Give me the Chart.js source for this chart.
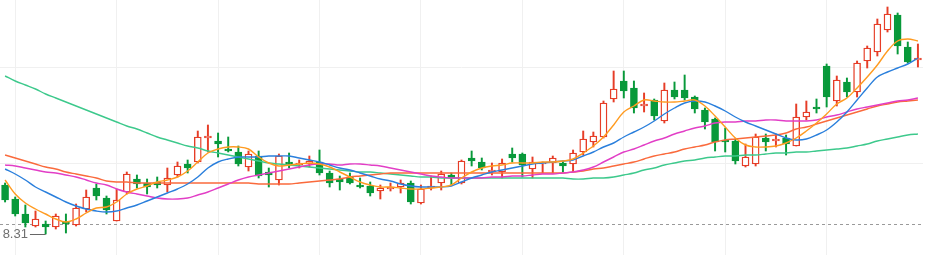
<!DOCTYPE html>
<html>
<head>
<meta charset="utf-8">
<script src="https://cdn.jsdelivr.net/npm/chart.js@4.4.1/dist/chart.umd.min.js"></script>
<style>
  body { margin: 0; background: #fff; }
  #wrap { width: 937px; height: 255px; }
</style>
</head>
<body>
<div id="wrap"><canvas id="kline"></canvas></div>
<script>
// daily candles
const opens = [8.80, 8.66, 8.51, 8.39, 8.41, 8.38, 8.43, 8.40, 8.56, 8.77,
  8.67, 8.44, 8.73, 8.86, 8.82, 8.83, 8.80, 8.90, 9.01, 9.03,
  9.27, 9.24, 9.16, 9.13, 8.98, 9.09, 8.93, 8.85, 9.03, 9.00,
  9.01, 9.03, 8.92, 8.86, 8.88, 8.80, 8.79, 8.74, 8.76, 8.78,
  8.82, 8.62, 8.77, 8.82, 8.90, 8.82, 9.07, 9.03, 8.93, 8.93,
  9.11, 9.11, 8.96, 9.01, 9.02, 9.02, 9.01, 9.13, 9.23, 9.28,
  9.66, 9.84, 9.77, 9.59, 9.65, 9.44, 9.75, 9.75, 9.68, 9.55,
  9.46, 9.25, 9.24, 8.99, 9.01, 9.27, 9.24, 9.27, 9.19, 9.48,
  9.58, 9.99, 9.64, 9.83, 9.73, 10.04, 10.13, 10.35, 10.50, 10.18, 10.05];
const closes = [8.65, 8.51, 8.42, 8.46, 8.38, 8.49, 8.41, 8.57, 8.68, 8.69,
  8.55, 8.65, 8.91, 8.81, 8.78, 8.80, 8.87, 8.99, 8.97, 9.28,
  9.29, 9.21, 9.14, 9.01, 9.11, 8.89, 8.90, 9.09, 9.01, 9.02,
  9.04, 8.92, 8.82, 8.83, 8.82, 8.78, 8.72, 8.77, 8.78, 8.82,
  8.63, 8.76, 8.79, 8.91, 8.87, 9.04, 9.04, 8.97, 8.95, 9.02,
  9.07, 9.00, 9.03, 9.02, 9.07, 8.99, 9.12, 9.26, 9.29, 9.62,
  9.76, 9.74, 9.57, 9.61, 9.49, 9.75, 9.68, 9.67, 9.56, 9.43,
  9.23, 9.23, 9.04, 9.08, 9.28, 9.23, 9.26, 9.21, 9.48, 9.53,
  9.56, 9.68, 9.85, 9.73, 10.02, 10.17, 10.41, 10.51, 10.19, 10.03, 10.07];
const highs = [8.82, 8.68, 8.60, 8.54, 8.44, 8.51, 8.51, 8.61, 8.75, 8.81,
  8.69, 8.76, 8.93, 8.90, 8.86, 8.88, 8.97, 9.03, 9.05, 9.34,
  9.40, 9.32, 9.28, 9.19, 9.14, 9.14, 8.97, 9.11, 9.12, 9.05,
  9.09, 9.15, 8.94, 8.89, 8.92, 8.87, 8.83, 8.80, 8.82, 8.85,
  8.84, 8.80, 8.89, 8.94, 8.92, 9.05, 9.14, 9.07, 9.02, 9.06,
  9.17, 9.12, 9.08, 9.03, 9.09, 9.04, 9.15, 9.34, 9.33, 9.64,
  9.94, 9.94, 9.84, 9.72, 9.66, 9.82, 9.83, 9.90, 9.69, 9.57,
  9.47, 9.37, 9.26, 9.21, 9.31, 9.31, 9.31, 9.30, 9.61, 9.64,
  9.66, 10.01, 9.89, 9.87, 10.04, 10.19, 10.46, 10.58, 10.52, 10.23, 10.21];
const lows = [8.63, 8.49, 8.38, 8.38, 8.31, 8.36, 8.32, 8.39, 8.53, 8.65,
  8.51, 8.44, 8.71, 8.77, 8.71, 8.77, 8.73, 8.88, 8.92, 9.02,
  9.13, 9.08, 9.13, 8.99, 8.94, 8.87, 8.78, 8.80, 8.97, 8.97,
  8.98, 8.90, 8.78, 8.75, 8.81, 8.77, 8.69, 8.66, 8.74, 8.72,
  8.61, 8.61, 8.75, 8.75, 8.80, 8.81, 8.99, 8.95, 8.90, 8.87,
  9.03, 8.88, 8.87, 8.92, 8.92, 8.93, 8.93, 9.10, 9.18, 9.27,
  9.63, 9.67, 9.52, 9.53, 9.45, 9.42, 9.66, 9.65, 9.52, 9.36,
  9.14, 9.13, 9.01, 8.98, 8.99, 9.14, 9.18, 9.10, 9.19, 9.45,
  9.52, 9.58, 9.59, 9.68, 9.68, 9.97, 10.09, 10.33, 10.11, 10.02, 9.98];

// moving averages as drawn
const ma5 = [8.85, 8.71, 8.62, 8.56, 8.51, 8.46, 8.43, 8.46, 8.52, 8.57,
  8.58, 8.63, 8.71, 8.76, 8.79, 8.83, 8.85, 8.88, 8.94, 9.03,
  9.12, 9.16, 9.18, 9.18, 9.16, 9.08, 9.02, 8.99, 9.00, 9.01,
  9.02, 9.01, 8.98, 8.93, 8.88, 8.83, 8.80, 8.78, 8.78, 8.77,
  8.76, 8.76, 8.77, 8.78, 8.80, 8.87, 8.93, 8.97, 8.99, 9.00,
  9.02, 9.02, 9.02, 9.03, 9.03, 9.04, 9.06, 9.12, 9.19, 9.28,
  9.40, 9.53, 9.59, 9.65, 9.64, 9.63, 9.63, 9.64, 9.65, 9.59,
  9.49, 9.38, 9.27, 9.20, 9.18, 9.18, 9.19, 9.22, 9.27, 9.34,
  9.42, 9.51, 9.61, 9.67, 9.77, 9.88, 10.00, 10.14, 10.24, 10.26, 10.24];
const ma10 = [8.96, 8.91, 8.85, 8.78, 8.73, 8.68, 8.63, 8.59, 8.56, 8.54,
  8.53, 8.54, 8.57, 8.60, 8.64, 8.68, 8.72, 8.76, 8.81, 8.88,
  8.97, 9.03, 9.06, 9.08, 9.08, 9.08, 9.09, 9.09, 9.09, 9.07,
  9.05, 9.03, 9.00, 8.97, 8.95, 8.92, 8.89, 8.86, 8.84, 8.81,
  8.79, 8.78, 8.78, 8.78, 8.79, 8.83, 8.87, 8.90, 8.93, 8.95,
  8.97, 8.99, 9.01, 9.02, 9.03, 9.04, 9.05, 9.09, 9.13, 9.18,
  9.22, 9.28, 9.33, 9.38, 9.44, 9.51, 9.57, 9.62, 9.64, 9.63,
  9.59, 9.54, 9.48, 9.43, 9.39, 9.35, 9.31, 9.27, 9.25, 9.26,
  9.30, 9.35, 9.43, 9.53, 9.65, 9.77, 9.88, 9.93, 9.97, 10.01, 10.07];
const ma20 = [9.00, 8.99, 8.97, 8.95, 8.93, 8.92, 8.90, 8.88, 8.85, 8.82,
  8.80, 8.76, 8.73, 8.71, 8.69, 8.67, 8.66, 8.66, 8.67, 8.70,
  8.73, 8.77, 8.81, 8.85, 8.88, 8.90, 8.92, 8.94, 8.96, 8.98,
  9.00, 9.01, 9.01, 9.00, 9.01, 9.01, 9.00, 8.99, 8.97, 8.95,
  8.93, 8.91, 8.89, 8.88, 8.87, 8.87, 8.87, 8.87, 8.88, 8.88,
  8.89, 8.89, 8.90, 8.91, 8.91, 8.92, 8.93, 8.95, 8.98, 9.03,
  9.08, 9.13, 9.16, 9.20, 9.24, 9.27, 9.31, 9.34, 9.37, 9.39,
  9.42, 9.43, 9.43, 9.44, 9.44, 9.45, 9.45, 9.44, 9.44, 9.44,
  9.45, 9.48, 9.50, 9.53, 9.56, 9.58, 9.60, 9.62, 9.64, 9.65, 9.67];
const ma30 = [9.10, 9.07, 9.04, 9.01, 8.98, 8.96, 8.93, 8.91, 8.89, 8.87,
  8.84, 8.83, 8.83, 8.82, 8.82, 8.82, 8.82, 8.82, 8.82, 8.82,
  8.82, 8.82, 8.82, 8.82, 8.82, 8.81, 8.81, 8.81, 8.81, 8.82,
  8.83, 8.84, 8.85, 8.86, 8.88, 8.89, 8.90, 8.91, 8.92, 8.92,
  8.92, 8.92, 8.92, 8.92, 8.92, 8.92, 8.92, 8.92, 8.92, 8.92,
  8.92, 8.92, 8.92, 8.92, 8.92, 8.92, 8.93, 8.94, 8.96, 8.97,
  8.99, 9.01, 9.03, 9.06, 9.09, 9.11, 9.13, 9.16, 9.18, 9.20,
  9.23, 9.25, 9.26, 9.27, 9.28, 9.29, 9.30, 9.32, 9.36, 9.38,
  9.41, 9.44, 9.47, 9.50, 9.53, 9.56, 9.59, 9.61, 9.63, 9.64, 9.65];
const ma60 = [9.89, 9.84, 9.80, 9.76, 9.71, 9.67, 9.63, 9.59, 9.55, 9.51,
  9.47, 9.43, 9.39, 9.36, 9.32, 9.28, 9.25, 9.22, 9.19, 9.17,
  9.14, 9.12, 9.10, 9.08, 9.06, 9.04, 9.02, 9.01, 9.00, 8.99,
  8.98, 8.97, 8.96, 8.95, 8.94, 8.93, 8.93, 8.92, 8.91, 8.90,
  8.89, 8.88, 8.88, 8.87, 8.87, 8.87, 8.87, 8.87, 8.87, 8.87,
  8.87, 8.87, 8.87, 8.87, 8.87, 8.87, 8.86, 8.86, 8.87, 8.87,
  8.88, 8.90, 8.92, 8.95, 8.97, 9.00, 9.02, 9.04, 9.05, 9.07,
  9.08, 9.09, 9.09, 9.10, 9.10, 9.11, 9.12, 9.12, 9.13, 9.13,
  9.14, 9.15, 9.16, 9.17, 9.19, 9.21, 9.24, 9.26, 9.28, 9.30, 9.31];

const refLevel = 8.41;          // dotted reference line
const gridLevels = [9.02, 9.97]; // horizontal grid lines
const days = opens.map((_, i) => 'D' + (i + 1));

const red = '#e63d27';
const green = '#08993a';
const upDay = opens.map((o, i) => closes[i] >= o);

const markers = {
  id: 'markers',
  beforeDatasetsDraw(chart) {
    const { ctx, chartArea, scales } = chart;
    const y = Math.round(scales.y.getPixelForValue(refLevel)) + 0.5;
    ctx.save();
    ctx.strokeStyle = '#9a9a9a';
    ctx.lineWidth = 1;
    ctx.setLineDash([3, 3]);
    ctx.beginPath();
    ctx.moveTo(chartArea.left, y);
    ctx.lineTo(chartArea.right, y);
    ctx.stroke();
    ctx.restore();
  },
  afterDatasetsDraw(chart) {
    const { ctx, scales } = chart;
    const lowest = Math.min(...lows);
    const idx = lows.indexOf(lowest);
    const x = scales.x.getPixelForValue(idx);
    const y = Math.round(scales.y.getPixelForValue(lowest)) + 0.5;
    const label = lowest.toFixed(2);
    ctx.save();
    ctx.font = '13px "Liberation Sans", Arial, sans-serif';
    ctx.fillStyle = '#6f6f6f';
    ctx.textBaseline = 'middle';
    const left = x - 43;
    const w = ctx.measureText(label).width;
    ctx.fillText(label, left, y);
    ctx.strokeStyle = '#666';
    ctx.lineWidth = 1;
    ctx.beginPath();
    ctx.moveTo(left + w + 2, y);
    ctx.lineTo(x, y);
    ctx.stroke();
    ctx.restore();
  }
};

function maLine(data, color) {
  return {
    type: 'line',
    data: data,
    borderColor: color,
    borderWidth: 1.4,
    pointRadius: 0,
    tension: 0.35,
    order: 0
  };
}

new Chart(document.getElementById('kline'), {
  type: 'bar',
  data: {
    labels: days,
    datasets: [
      maLine(ma5, '#ff9b21'),
      maLine(ma10, '#2a7fdc'),
      maLine(ma20, '#e23ec6'),
      maLine(ma30, '#fa6a3c'),
      maLine(ma60, '#3dc98c'),
      {
        data: opens.map((o, i) => [o, closes[i]]),
        backgroundColor: upDay.map(u => u ? '#ffffff' : green),
        borderColor: upDay.map(u => u ? red : green),
        borderWidth: 1.4,
        borderSkipped: false,
        barThickness: 7,
        grouped: false,
        order: 1
      },
      {
        data: lows.map((l, i) => [l, highs[i]]),
        backgroundColor: upDay.map(u => u ? red : green),
        borderWidth: 0,
        barThickness: 1.3,
        grouped: false,
        order: 2
      }
    ]
  },
  options: {
    responsive: true,
    maintainAspectRatio: false,
    animation: false,
    devicePixelRatio: 1,
    layout: { padding: { left: 0, right: 14, top: 0, bottom: 0 } },
    plugins: { legend: { display: false }, tooltip: { enabled: false } },
    scales: {
      x: {
        offset: true,
        grid: { color: '#f0f0f0', offset: false, drawTicks: false },
        border: { display: false },
        ticks: { display: false },
        afterBuildTicks: scale => {
          scale.ticks = scale.ticks.filter(t => t.value % 10 === 1);
        }
      },
      y: {
        min: 8.10,
        max: 10.65,
        beginAtZero: false,
        grid: { color: '#f0f0f0', drawTicks: false },
        border: { display: false },
        ticks: { display: false },
        afterBuildTicks: scale => {
          scale.ticks = gridLevels.map(v => ({ value: v }));
        }
      }
    }
  },
  plugins: [markers]
});
</script>
</body>
</html>
